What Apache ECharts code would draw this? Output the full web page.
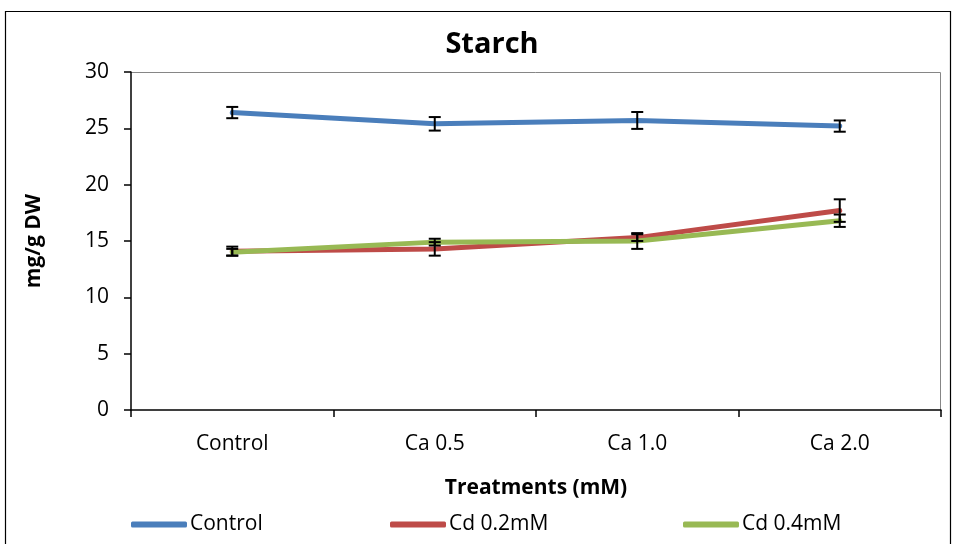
<!DOCTYPE html>
<html>
<head>
<meta charset="utf-8">
<script src="https://cdn.jsdelivr.net/npm/echarts@6/dist/echarts.min.js"></script>
<style>html,body{margin:0;padding:0;background:#fff}#c{width:956px;height:544px}</style>
</head>
<body>
<div id="c"></div>
<script>
const categories = ['Control', 'Ca 0.5', 'Ca 1.0', 'Ca 2.0'];
const seriesNames = ['Control', 'Cd 0.2mM', 'Cd 0.4mM'];
const controlVals = [26.4, 25.4, 25.7, 25.2];
const controlErr = [0.5, 0.6, 0.75, 0.5];
const cd02Vals = [14.1, 14.3, 15.3, 17.7];
const cd02Err = [0.4, 0.6, 0.3, 1.0];
const cd04Vals = [14.0, 14.9, 15.0, 16.8];
const cd04Err = [0.3, 0.3, 0.7, 0.55];
const yTicks = [0, 5, 10, 15, 20, 25, 30];
const colors = ['#4a7ebb', '#be4b48', '#98b954'];

const FONT = '"Open Sans", "Liberation Sans", sans-serif';
const chart = echarts.init(document.getElementById('c'));

function errSeries(vals, errs) {
  return {
    type: 'custom',
    silent: true,
    z: 10,
    data: vals.map((v, i) => [i, v - errs[i], v + errs[i]]),
    renderItem: function (params, api) {
      const lo = api.coord([api.value(0), api.value(1)]);
      const hi = api.coord([api.value(0), api.value(2)]);
      const hw = 6;
      const st = { stroke: '#000', lineWidth: 2 };
      return {
        type: 'group',
        children: [
          { type: 'line', shape: { x1: lo[0], y1: lo[1], x2: hi[0], y2: hi[1] }, style: st },
          { type: 'line', shape: { x1: lo[0] - hw, y1: lo[1], x2: lo[0] + hw, y2: lo[1] }, style: st },
          { type: 'line', shape: { x1: hi[0] - hw, y1: hi[1], x2: hi[0] + hw, y2: hi[1] }, style: st }
        ]
      };
    }
  };
}

const allVals = [controlVals, cd02Vals, cd04Vals];
const allErr = [controlErr, cd02Err, cd04Err];

const lineSeries = seriesNames.map((n, k) => ({
  name: n,
  type: 'line',
  data: allVals[k],
  symbol: 'none',
  lineStyle: { width: 5, color: colors[k], cap: 'round' },
  itemStyle: { color: colors[k] },
  z: 5 + k
}));

const legendLefts = [131, 390, 683];
const legends = seriesNames.map((n, k) => ({
  data: [n],
  left: legendLefts[k],
  top: 514,
  padding: 0,
  icon: 'roundRect',
  itemWidth: 56,
  itemHeight: 6,
  itemGap: 0,
  textStyle: { fontFamily: FONT, fontSize: 21, color: '#000', padding: [0, 0, 0, -2] }
}));

chart.setOption({
  animation: false,
  color: colors,
  title: {
    text: 'Starch',
    left: 487,
    textAlign: 'center',
    top: 25,
    textStyle: { fontFamily: FONT, fontSize: 29, fontWeight: 'bold', color: '#000' }
  },
  legend: legends,
  graphic: [
    { type: 'rect', shape: { x: 5.5, y: 11.5, width: 945, height: 560 }, style: { fill: 'none', stroke: '#000', lineWidth: 1.2 }, silent: true, z: -1 },
    { type: 'polyline', shape: { points: [[131, 72.5], [940.5, 72.5], [940.5, 410]] }, style: { fill: 'none', stroke: '#868686', lineWidth: 1 }, silent: true }
  ],
  grid: { left: 131, right: 15, top: 72, bottom: 134 },
  xAxis: {
    type: 'category',
    data: categories,
    boundaryGap: true,
    name: 'Treatments (mM)',
    nameLocation: 'middle',
    nameGap: 68,
    nameTextStyle: { fontFamily: FONT, fontSize: 21, fontWeight: 'bold', color: '#000' },
    axisLine: { lineStyle: { color: '#000', width: 1.5 } },
    axisTick: { show: true, length: 7, inside: false, lineStyle: { color: '#000', width: 1.5 } },
    axisLabel: { fontFamily: FONT, fontSize: 21, color: '#000', margin: 24 },
    splitLine: { show: false }
  },
  yAxis: {
    type: 'value',
    min: 0,
    max: 30,
    interval: 5,
    name: 'mg/g DW',
    nameLocation: 'middle',
    nameGap: 86,
    nameRotate: 90,
    nameTextStyle: { fontFamily: FONT, fontSize: 21, fontWeight: 'bold', color: '#000' },
    axisLine: { show: true, lineStyle: { color: '#000', width: 1.5 } },
    axisTick: { show: true, length: 7, lineStyle: { color: '#000', width: 1.5 } },
    axisLabel: { fontFamily: FONT, fontSize: 21, color: '#000', margin: 22, formatter: v => yTicks.includes(v) ? String(v) : '' },
    splitLine: { show: false }
  },
  series: lineSeries.concat(allVals.map((v, k) => errSeries(v, allErr[k])))
});
</script>
</body>
</html>
